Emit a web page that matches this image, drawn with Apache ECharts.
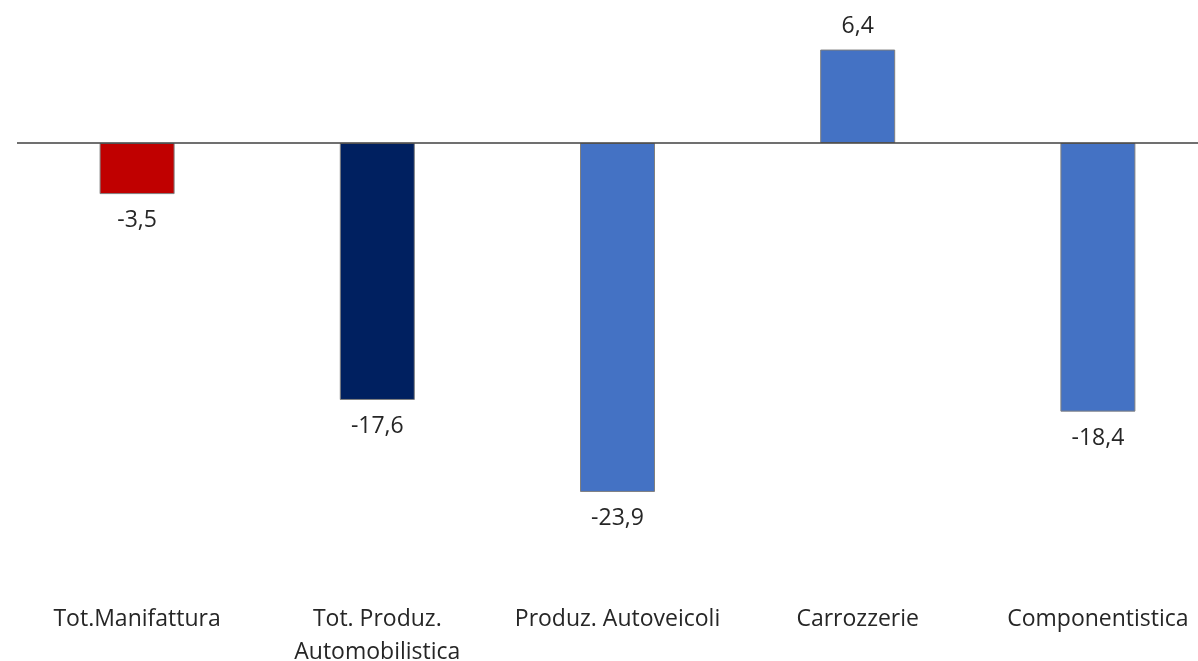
<!DOCTYPE html>
<html>
<head>
<meta charset="utf-8">
<script src="https://cdn.jsdelivr.net/npm/echarts@6/dist/echarts.min.js"></script>
<style>
html,body{margin:0;padding:0;background:#fff;overflow:hidden;}
#chart{width:1218px;height:661px;}
</style>
</head>
<body>
<div id="chart"></div>
<script>
const categories = ['Tot.Manifattura', 'Tot. Produz.\nAutomobilistica', 'Produz. Autoveicoli', 'Carrozzerie', 'Componentistica'];
const values = [-3.5, -17.6, -23.9, 6.4, -18.4];
const barColors = ['#C00000', '#002060', '#4472C4', '#4472C4', '#4472C4'];

const FONT = '"Open Sans", "Noto Sans", sans-serif';
const chart = echarts.init(document.getElementById('chart'));
chart.setOption({
  animation: false,
  backgroundColor: '#ffffff',
  grid: { left: 17, right: 0, top: 26.2, height: 554.8, containLabel: false, outerBoundsMode: 'none' },
  xAxis: {
    type: 'category',
    data: categories,
    position: 'bottom',
    axisLine: { show: false, onZero: false },
    axisTick: { show: false },
    axisLabel: {
      interval: 0,
      margin: 21.5,
      fontFamily: FONT,
      fontSize: 23,
      lineHeight: 33,
      color: '#262626'
    }
  },
  yAxis: {
    type: 'value',
    min: -30,
    max: 8,
    show: false,
    splitLine: { show: false }
  },
  series: [{
    type: 'bar',
    barWidth: 75,
    data: values.map((v, i) => ({
      value: v,
      itemStyle: { color: barColors[i], borderColor: '#7f7f7f', borderWidth: 1 },
      label: { position: v < 0 ? 'bottom' : 'top', distance: v < 0 ? 15 : 12 }
    })),
    label: {
      show: true,
      fontFamily: FONT,
      fontSize: 23,
      color: '#262626',
      formatter: p => String(p.value).replace('.', ',')
    },
    markLine: {
      silent: true,
      symbol: 'none',
      label: { show: false },
      lineStyle: { color: '#404040', width: 1.5, type: 'solid' },
      data: [{ yAxis: 0 }]
    }
  }]
});
</script>
</body>
</html>
